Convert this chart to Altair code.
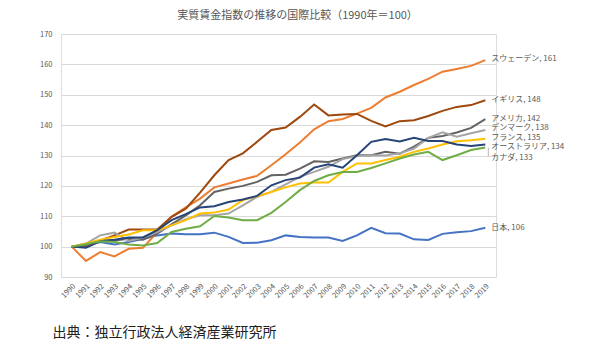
import altair as alt
import pandas as pd

years = [str(y) for y in range(1990, 2020)]

japan = [100, 100.4, 101.5, 100.7, 101.5, 102.6, 103.7, 104.3, 104.1, 104.1,
         104.6, 103.2, 101.2, 101.3, 102.1, 103.7, 103.2, 103.0, 103.0, 101.9,
         103.7, 106.2, 104.4, 104.3, 102.4, 102.2, 104.2, 104.7, 105.1, 106.2]
sweden = [100, 95.3, 98.2, 96.8, 99.3, 99.6, 104.8, 109.8, 112.9, 115.8,
          119.5, 120.8, 122.1, 123.3, 126.8, 130.4, 134.3, 138.6, 141.3, 142.0,
          143.8, 145.7, 149.1, 151.0, 153.2, 155.2, 157.6, 158.5, 159.5, 161.4]
uk = [100, 99.9, 102.0, 103.7, 105.6, 105.6, 105.6, 109.8, 112.5, 117.8,
      123.5, 128.5, 130.7, 134.5, 138.4, 139.2, 142.7, 146.8, 143.2, 143.5,
      143.7, 141.4, 139.6, 141.3, 141.6, 143.0, 144.7, 146.0, 146.6, 148.2]
usa = [100, 100.4, 102.0, 102.0, 102.6, 102.3, 104.3, 107.3, 110.3, 113.6,
       118.0, 119.1, 120.0, 121.3, 123.5, 123.7, 125.7, 128.1, 127.9, 129.0,
       130.1, 130.1, 131.2, 130.6, 132.9, 135.8, 136.4, 137.6, 139.1, 142.0]
denmark = [100, 101.0, 103.7, 104.6, 101.9, 103.0, 104.8, 107.0, 109.0, 110.3,
           110.3, 110.9, 113.6, 116.4, 118.0, 120.5, 123.0, 124.6, 126.3, 128.8,
           129.8, 130.1, 130.0, 130.7, 132.3, 135.8, 137.6, 136.2, 137.3, 138.4]
france = [100, 101.0, 102.3, 103.2, 104.0, 105.4, 105.4, 107.0, 108.7, 110.9,
          111.2, 112.2, 115.3, 116.6, 118.0, 119.5, 120.8, 121.1, 121.1, 124.6,
          127.4, 127.4, 128.5, 129.6, 131.2, 132.3, 133.6, 134.7, 135.0, 135.5]
australia = [100, 99.6, 101.8, 102.3, 103.0, 103.0, 105.4, 108.7, 110.7, 112.9,
             113.3, 114.7, 115.5, 116.7, 120.2, 121.9, 122.7, 126.0, 127.1, 126.0,
             130.1, 134.5, 135.4, 134.6, 135.8, 134.8, 134.8, 133.6, 133.1, 133.6]
canada = [100, 100.8, 101.8, 101.5, 100.7, 100.4, 101.2, 104.8, 105.9, 106.7,
          110.1, 109.6, 108.7, 108.7, 111.1, 114.7, 118.6, 121.6, 123.5, 124.6,
          124.6, 125.9, 127.4, 129.0, 130.3, 131.2, 128.5, 130.1, 131.8, 132.6]

names = ["日本", "スウェーデン", "イギリス", "アメリカ", "デンマーク",
         "フランス", "オーストラリア", "カナダ"]
series = [japan, sweden, uk, usa, denmark, france, australia, canada]
end_labels = [106, 161, 148, 142, 138, 135, 134, 133]
colors = ["#4472C4", "#ED7D31", "#9E480E", "#636363", "#A5A5A5",
          "#FFC000", "#264478", "#70AD47"]
# pixel nudges for end labels (style, not data)
label_dy = [0, -1, 0, 0, -1.5, -0.5, 2.5, 10]

rows = []
for n, s in zip(names, series):
    for y, v in zip(years, s):
        rows.append({"year": y, "value": v, "country": n})
df = pd.DataFrame(rows)

FONT = "Noto Sans CJK JP"
GRAY = "#595959"

color_scale = alt.Scale(domain=names, range=colors)

x_enc = alt.X(
    "year:O",
    sort=years,
    scale=alt.Scale(padding=0.5),
    axis=alt.Axis(
        title="出典：独立行政法人経済産業研究所",
        titleFont=FONT, titleFontSize=14, titleFontWeight="normal",
        titleColor="#222222", titleAnchor="start", titleAlign="left",
        titleX=-9, titleY=55, titleBaseline="middle",
        labelAngle=-45, labelFontSize=7.5, labelColor=GRAY, labelFont=FONT,
        labelPadding=5, ticks=False, domain=False, grid=False,
    ),
)
y_enc = alt.Y(
    "value:Q",
    scale=alt.Scale(domain=[90, 170], nice=False, zero=False),
    axis=alt.Axis(
        title=None, values=list(range(90, 171, 10)), labelOverlap=False,
        labelFontSize=7.5, labelColor=GRAY, labelFont=FONT, labelPadding=9,
        ticks=False, domain=False, gridColor="#D9D9D9", gridWidth=1,
    ),
)

lines = alt.Chart(df).mark_line(strokeWidth=2).encode(
    x=x_enc,
    y=y_enc,
    color=alt.Color("country:N", scale=color_scale, legend=None),
    detail="country:N",
)

layers = [lines]
for n, s, lv, dy in zip(names, series, end_labels, label_dy):
    lab = pd.DataFrame({"year": [years[-1]], "value": [s[-1]],
                        "text": [f"{n}, {lv}"]})
    layers.append(
        alt.Chart(lab).mark_text(
            align="left", baseline="middle", dx=6, dy=dy,
            fontSize=8, font=FONT, color=GRAY,
        ).encode(x=x_enc, y=y_enc, text="text:N")
    )

# short leader line for the Canada label
lead = pd.DataFrame({"year": [years[-1]], "value": [canada[-1]]})
layers.append(
    alt.Chart(lead).mark_rule(color="#A6A6A6", strokeWidth=0.8, xOffset=3).encode(
        x=x_enc, y=y_enc, y2=alt.value(122)
    )
)

chart = alt.layer(*layers).properties(
    width=435,
    height=243,
    title=alt.TitleParams(
        "実質賃金指数の推移の国際比較（1990年＝100）",
        font=FONT, fontSize=11, fontWeight="normal", color=GRAY,
        anchor="middle", dx=19, offset=9,
    ),
    autosize=alt.AutoSizeParams(type="none"),
    padding={"left": 61, "top": 34, "right": 104, "bottom": 76},
).configure_view(stroke=None).configure(background="white")

chart.save("out.html", embed_options={"renderer": "svg", "actions": False})
